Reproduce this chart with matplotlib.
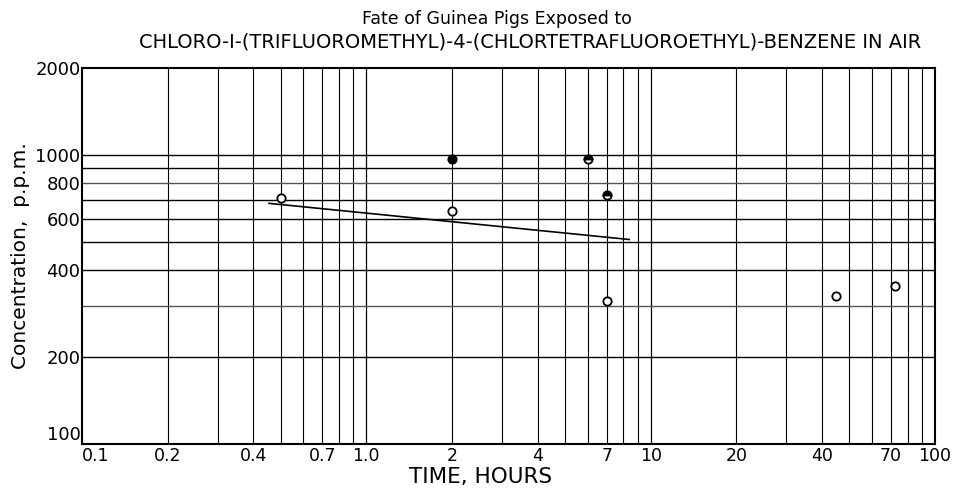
import numpy as np
import matplotlib
matplotlib.use("Agg")
import matplotlib.pyplot as plt

# exposure data: time (hours) vs concentration (p.p.m.)
open_t = [0.5, 2, 7, 45, 72]
open_c = [710, 640, 313, 326, 351]
dead_t = [2]
dead_c = [970]
half_t = [6, 7]
half_c = [966, 725]

# fitted line
line_t = [0.455, 8.4]
line_c = [680, 510]

xticks = [0.1, 0.2, 0.4, 0.7, 1.0, 2, 4, 7, 10, 20, 40, 70, 100]
xlabels = ["0.1", "0.2", "0.4", "0.7", "1.0", "2", "4", "7", "10", "20", "40", "70", "100"]
yticks = [100, 200, 400, 600, 800, 1000, 2000]
ylabels = ["100", "200", "400", "600", "800", "1000", "2000"]

plt.rcParams['font.family'] = ['DejaVu Sans']

fig = plt.figure(figsize=(9.64, 4.99), dpi=100)
ax = fig.add_axes([0.085, 0.110, 0.885, 0.754])
ax.set_xscale("log")
ax.set_yscale("log")
ax.set_xlim(0.1, 100)
ax.set_ylim(100, 2000)

# log paper grid
for dec in [0.1, 1, 10]:
    for m in range(2, 10):
        ax.axvline(dec * m, color="black", lw=0.8, zorder=1)
    ax.axvline(dec * 10, color="black", lw=0.9, zorder=1)
for c in range(200, 1001, 100):
    col = "#555555" if c in (800, 300) else "black"
    ax.axhline(c, color=col, lw=1.0, zorder=1)

ax.plot(line_t, line_c, color="black", lw=1.2, zorder=2)
ax.plot(open_t, open_c, "o", ms=6, mfc="white", mec="black", mew=1.3, zorder=3)
ax.plot(dead_t, dead_c, "o", ms=6, mfc="black", mec="black", mew=1.3, zorder=3)
ax.plot(half_t, half_c, "o", ms=6, fillstyle="top", mfc="black", mfcalt="white",
        mec="black", mew=1.3, zorder=3)

ax.set_xticks(xticks)
ax.set_xticklabels(xlabels, fontsize=12.5)
ax.set_yticks(yticks)
ax.set_yticklabels(ylabels, fontsize=13)
ax.minorticks_off()
ax.tick_params(axis="x", length=0, pad=2)
ax.tick_params(axis="y", length=0, pad=1)
# keep the corner labels apart
ax.get_xticklabels()[0].set_horizontalalignment("left")
ax.get_yticklabels()[0].set_verticalalignment("bottom")
for s in ax.spines.values():
    s.set_linewidth(1.5)

ax.set_ylabel("Concentration,  p.p.m.", fontsize=14.5, labelpad=4)
fig.text(0.498, 0.044, "TIME, HOURS", ha="center", va="center", fontsize=15.5)

fig.text(0.515, 0.962, "Fate of Guinea Pigs Exposed to", ha="center", va="center", fontsize=12.5)
fig.text(0.550, 0.915, "CHLORO-I-(TRIFLUOROMETHYL)-4-(CHLORTETRAFLUOROETHYL)-BENZENE IN AIR",
         ha="center", va="center", fontsize=14)

fig.savefig("out.png", dpi=100)
